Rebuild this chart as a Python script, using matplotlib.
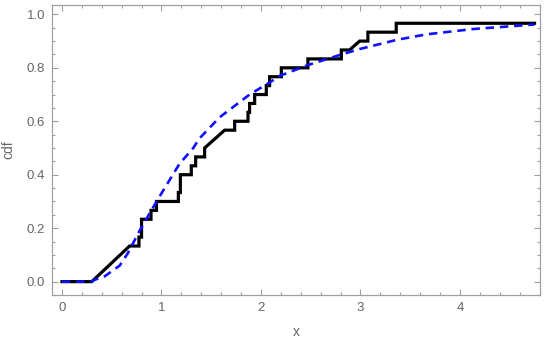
import matplotlib
matplotlib.use("Agg")
import matplotlib.pyplot as plt
from matplotlib.ticker import MultipleLocator

ecdf_x = [0.0, 0.30, 0.68, 0.774, 0.774, 0.80, 0.80, 0.895, 0.895, 0.95, 0.95, 1.17, 1.17,
          1.19, 1.19, 1.30, 1.30, 1.344, 1.344, 1.434, 1.434, 1.635, 1.736, 1.736, 1.87, 1.87,
          1.886, 1.886, 1.937, 1.937, 2.054, 2.054, 2.087, 2.087, 2.205, 2.205, 2.472, 2.472,
          2.808, 2.808, 2.891, 2.992, 3.075, 3.075, 3.36, 3.36, 4.75]
ecdf_counts = [0, 0, 4, 4, 5, 5, 7, 7, 8, 8, 9, 9, 10,
               10, 12, 12, 13, 13, 14, 14, 15, 17, 17, 18, 18, 19,
               19, 20, 20, 21, 21, 22, 22, 23, 23, 24, 24, 25,
               25, 26, 26, 27, 27, 28, 28, 29, 29]
n_obs = 30

# Fitted CDF (dashed blue)
fit_x = [0.0, 0.29, 0.33, 0.43, 0.58, 0.66, 0.78, 0.88, 1.0, 1.18, 1.32, 1.38,
         1.585, 1.886, 2.087, 2.19, 2.47, 2.81, 2.99, 3.37, 3.66, 4.13, 4.57, 4.75]
fit_y = [0.0, 0.0, 0.007, 0.02, 0.06, 0.105, 0.19, 0.255, 0.33, 0.44, 0.50, 0.535,
         0.615, 0.70, 0.745, 0.77, 0.81, 0.85, 0.87, 0.905, 0.925, 0.945, 0.957, 0.962]

x_ticks = [0, 1, 2, 3, 4]
y_ticks = [0.0, 0.2, 0.4, 0.6, 0.8, 1.0]

plt.rcParams['font.family'] = ['Liberation Sans', 'DejaVu Sans']
text_col = '#666666'
frame_col = '#a0a0a0'

fig = plt.figure(figsize=(5.5, 3.43), dpi=100)
ax = fig.add_axes([52/550, 48/343, 488/550, 290/343])

ecdf_y = [c / n_obs for c in ecdf_counts]
ax.plot(ecdf_x, ecdf_y, color='black', lw=2.3, solid_joinstyle='miter', zorder=3)
ax.plot(fit_x, fit_y, color='#1010ff', lw=1.9, dashes=(3.2, 2.2), zorder=4)

ax.set_xlim(-0.1, 4.805)
ax.set_ylim(-0.05, 1.035)
ax.set_xticks(x_ticks)
ax.set_yticks(y_ticks)
ax.set_xticklabels([str(t) for t in x_ticks])
ax.set_yticklabels([f"{t:.1f}" for t in y_ticks])
ax.xaxis.set_minor_locator(MultipleLocator(0.2))
ax.yaxis.set_minor_locator(MultipleLocator(0.05))
ax.tick_params(which='both', direction='in', top=True, right=True, colors=frame_col,
               labelcolor=text_col, labelsize=9.5, width=0.8)
ax.tick_params(which='major', length=4.5, pad=5)
ax.tick_params(which='minor', length=2.5)
for s in ax.spines.values():
    s.set_color(frame_col)
    s.set_linewidth(0.9)

ax.set_xlabel('x', color=text_col, fontsize=10, labelpad=8)
ax.set_ylabel('cdf', color=text_col, fontsize=10, labelpad=8)

fig.savefig('out.png', dpi=100)
